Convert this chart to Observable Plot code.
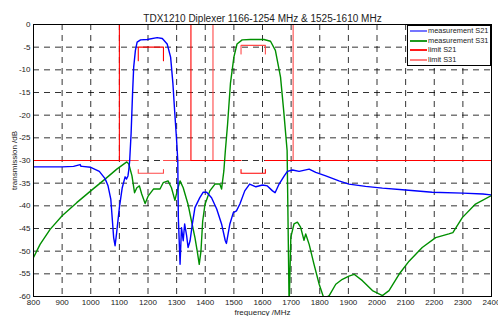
<!DOCTYPE html>
<html>
<head>
<meta charset="utf-8">
<script src="https://cdn.jsdelivr.net/npm/d3@7"></script>
<script src="https://cdn.jsdelivr.net/npm/@observablehq/plot@0.6"></script>
<style>
  html, body { margin: 0; padding: 0; background: white; }
  #wrap { position: relative; width: 498px; height: 316px; font-family: "Liberation Sans", Arial, sans-serif; }
  #legend { position: absolute; left: 407px; top: 25px; width: 82px; height: 39px; border: 1px solid black; background: white; box-sizing: content-box; }
  .row { position: absolute; left: 0; height: 10px; width: 82px; font-size: 7.4px; line-height: 10px; color: #222; }
  .sw { position: absolute; left: 2px; top: 4px; width: 17px; height: 2px; }
  .lab { position: absolute; left: 20px; top: 0; white-space: nowrap; }
</style>
</head>
<body>
<div id="wrap"></div>
<script>
const title = "TDX1210 Diplexer 1166-1254 MHz & 1525-1610 MHz";
const xTicks = [800, 900, 1000, 1100, 1200, 1300, 1400, 1500, 1600, 1700, 1800, 1900, 2000, 2100, 2200, 2300, 2400];
const yTicks = [0, -5, -10, -15, -20, -25, -30, -35, -40, -45, -50, -55, -60];
const seriesNames = ["measurement S21", "measurement S31", "limit S21", "limit S31"];

// measurement S21
const s21F = [800, 850, 900, 940, 963, 966, 970, 1000, 1030, 1050, 1060, 1070, 1080, 1085, 1090, 1100, 1110, 1120, 1125, 1130, 1133, 1136, 1141, 1146, 1150, 1156, 1162, 1174, 1197, 1232, 1250, 1267, 1279, 1287, 1293, 1300, 1304, 1306, 1312, 1317, 1323, 1328, 1335, 1340, 1347, 1355, 1364, 1381, 1393, 1405, 1422, 1440, 1457, 1470, 1474, 1486, 1498, 1509, 1521, 1538, 1555, 1577, 1600, 1617, 1635, 1644, 1658, 1676, 1687, 1705, 1728, 1763, 1786, 1821, 1867, 1902, 1960, 2019, 2100, 2193, 2300, 2370, 2400];
const s21Db = [-31.4, -31.4, -31.4, -31.3, -30.9, -31.3, -31.3, -31.5, -32.4, -34, -35.5, -38.5, -47, -48.8, -46.2, -40.4, -36, -33.6, -34.1, -33.4, -32, -30, -24, -15.3, -9.4, -5.7, -3.9, -3.4, -3.3, -2.9, -3.1, -4.3, -7.2, -13, -19, -25.6, -30, -42.6, -52.9, -44.8, -47.7, -44, -46.6, -49.2, -47.7, -44, -40.4, -38.2, -37, -37, -38.2, -40.7, -44, -47.7, -48.3, -44, -41.5, -41.1, -39.6, -36.7, -35.2, -35.8, -35.4, -35.6, -36.7, -37.1, -35.2, -33.4, -32.4, -32.1, -32.4, -31.9, -32.6, -33.4, -34.5, -35.2, -35.7, -36.1, -36.5, -37, -37.2, -37.4, -37.6];

// measurement S31
const s31F = [800, 823, 858, 900, 951, 1000, 1050, 1091, 1126, 1133, 1144, 1153, 1161, 1170, 1178, 1190, 1201, 1219, 1242, 1253, 1270, 1282, 1294, 1302, 1312, 1323, 1340, 1352, 1364, 1372, 1379, 1385, 1391, 1399, 1416, 1434, 1451, 1457, 1465, 1470, 1478, 1488, 1500, 1511, 1529, 1558, 1605, 1628, 1645, 1663, 1674, 1686, 1693, 1699, 1710, 1722, 1733, 1745, 1751, 1763, 1780, 1798, 1815, 1833, 1856, 1879, 1902, 1920, 1949, 1984, 2019, 2042, 2077, 2112, 2158, 2205, 2251, 2265, 2298, 2344, 2398];
const s31Db = [-51.4, -48.5, -45.2, -42.2, -39.3, -36.7, -34.1, -31.9, -30.3, -30.8, -33.4, -37.1, -36, -35.6, -37.4, -39.5, -37.8, -36.3, -36.3, -34.9, -34.5, -36, -38.8, -36.7, -34.5, -36, -39.7, -43.4, -47, -50, -52.9, -50, -43.4, -39.7, -36.7, -35.2, -35.2, -36.3, -32.3, -28, -22, -13, -7.2, -4.3, -3.4, -3.3, -3.3, -3.7, -5.7, -11.6, -19, -27.8, -62, -46.9, -44, -43.6, -44.7, -47.6, -46.2, -48.5, -52.9, -57.3, -60.5, -59.8, -57.3, -56.2, -55.5, -55.1, -56.5, -58.7, -59.8, -58.7, -55.1, -52.2, -49.2, -47, -46.2, -45.9, -42.6, -39.6, -37.8];

// limit S21 (null breaks the line)
const limS21F  = [800, 1100, 1100, null, 1166, 1166, 1254, 1254, null, 1350, 1350, 1525, null, 1525, 1525, 1610, 1610, null, 1610, 2400];
const limS21Db = [-30, -30, 0, null, -8, -5, -5, -8, null, 0, -30, -30, null, -32, -32.8, -32.8, -32, null, -30, -30];
// limit S31
const limS31F  = [800, 1166, null, 1166, 1166, 1254, 1254, null, 1254, 1427, 1427, null, 1525, 1525, 1610, 1610, null, 1707, 1707, 2400];
const limS31Db = [-30, -30, null, -32, -32.8, -32.8, -32, null, -30, -30, 0, null, -6.5, -4.6, -4.6, -6.5, null, 0, -30, -30];

const colors = ["#0000ff", "#008f00", "#ff0000", "#ff4a4a"];
const swatchColors = ["#7575ff", "#1f9a1f", "#ff1a1a", "#ff8080"];

const toRows = (F, D) => F.map((f, i) => ({f, db: D[i]}));
const lineOpts = (c, w) => ({x: "f", y: "db", stroke: c, strokeWidth: w, clip: true, curve: "linear"});

const fmt = d => String(d);
const chart = Plot.plot({
  width: 498,
  height: 316,
  marginLeft: 33,
  marginRight: 7,
  marginTop: 24,
  marginBottom: 20,
  style: {fontFamily: "'Liberation Sans', Arial, sans-serif", fontSize: "8px", background: "white", color: "#222", overflow: "visible"},
  x: {type: "linear", domain: [800, 2400]},
  y: {type: "linear", domain: [-60, 0]},
  marks: [
    Plot.gridX(xTicks, {stroke: "#000", strokeOpacity: 0.8, strokeDasharray: "6,5", strokeWidth: 1}),
    Plot.gridY(yTicks, {stroke: "#000", strokeOpacity: 0.8, strokeDasharray: "6,5", strokeWidth: 1}),
    Plot.line(toRows(limS31F, limS31Db), {...lineOpts(colors[3], 1.1), defined: d => d.f != null}),
    Plot.line(toRows(limS21F, limS21Db), {...lineOpts(colors[2], 1.1), defined: d => d.f != null}),
    Plot.line(toRows(s31F, s31Db), lineOpts(colors[1], 1.4)),
    Plot.line(toRows(s21F, s21Db), lineOpts(colors[0], 1.4)),
    Plot.axisX({ticks: xTicks, tickFormat: fmt, tickSize: 0, tickPadding: 3, label: "frequency /MHz", labelAnchor: "center", labelArrow: "none", labelOffset: 18}),
    Plot.axisY({ticks: yTicks, tickFormat: fmt, tickSize: 0, tickPadding: 3, label: "transmission /dB", labelAnchor: "center", labelArrow: "none", labelOffset: 22}),
    Plot.frame({stroke: "#000", strokeWidth: 1}),
    Plot.text([title], {frameAnchor: "top", dy: -9.5, fontSize: 10, fill: "#222", text: d => d})
  ]
});
const wrap = document.getElementById("wrap");
wrap.appendChild(chart);

const legend = document.createElement("div");
legend.id = "legend";
seriesNames.forEach((name, i) => {
  const row = document.createElement("div");
  row.className = "row";
  row.style.top = (0 + i * 9.5) + "px";
  const sw = document.createElement("div");
  sw.className = "sw";
  sw.style.background = swatchColors[i];
  const lab = document.createElement("span");
  lab.className = "lab";
  lab.textContent = name;
  row.appendChild(sw);
  row.appendChild(lab);
  legend.appendChild(row);
});
wrap.appendChild(legend);
</script>
</body>
</html>
